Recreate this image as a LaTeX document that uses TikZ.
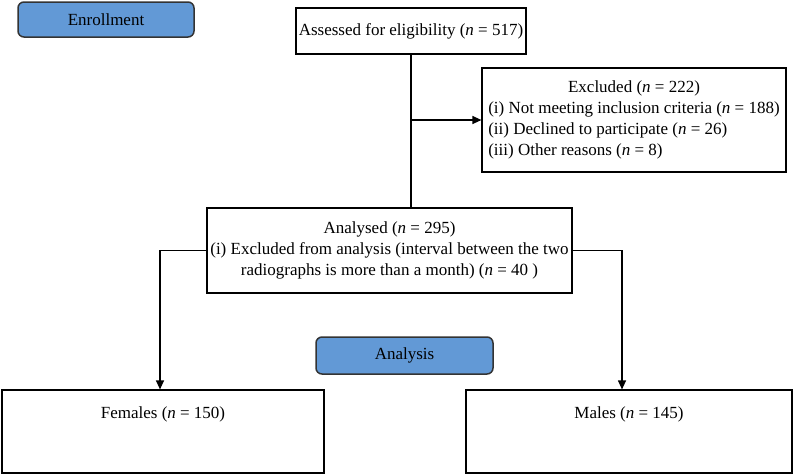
\documentclass[tikz,border=0pt]{standalone}
\usepackage{fontspec}
\setmainfont{Liberation Serif}
\usetikzlibrary{arrows.meta}
\definecolor{hdrblue}{HTML}{6299D6}
\definecolor{edgegray}{HTML}{333333}
\begin{document}
\begin{tikzpicture}[x=1pt,y=-1pt,
  box/.style={draw=black, line width=1.2pt, fill=white, inner sep=0pt, font=\fontsize{17}{21}\selectfont},
  hdr/.style={draw=edgegray, line width=1.5pt, fill=hdrblue, rounded corners=6pt, inner sep=0pt, font=\fontsize{17}{20}\selectfont},
  conn/.style={line width=1.2pt},
  arr/.style={conn, -{Triangle[length=9pt,width=8pt]}}]
\useasboundingbox (0,0) rectangle (794,475);
\node[hdr, minimum width=176pt, minimum height=35pt] (enr) at (106,19.5) {Enrollment};
\node[box, minimum width=230pt, minimum height=46pt] (ass) at (411,31) {Assessed for eligibility (\textit{n} = 517)};
\node[box, minimum width=304pt, minimum height=104pt] (exc) at (634,120) {\begin{tabular}{@{}l@{}}\multicolumn{1}{c}{Excluded (\textit{n} = 222)}\\ (i) Not meeting inclusion criteria (\textit{n} = 188)\\ (ii) Declined to participate (\textit{n} = 26)\\ (iii) Other reasons (\textit{n} = 8)\end{tabular}};
\node[box, minimum width=365pt, minimum height=85pt, align=center] (ana) at (389.5,250.5) {Analysed (\textit{n} = 295)\\ (i) Excluded from analysis (interval between the two\\ radiographs is more than a month) (\textit{n} = 40 )};
\node[hdr, minimum width=177pt, minimum height=37pt] (anl) at (404.5,355.5) {Analysis};
\node[box, minimum width=322pt, text height=28pt, text depth=55pt] (fem) at (163,431.5) {Females (\textit{n} = 150)};
\node[box, minimum width=326pt, text height=28pt, text depth=55pt] (mal) at (629,431.5) {Males (\textit{n} = 145)};
\draw[conn] (ass.south) -- (ass.south |- ana.north);
\coordinate (j1) at (ass.south |- exc.west);
\draw[arr] (j1) -- (exc.west);
\coordinate (fl) at (160,250.5);
\coordinate (ml) at (622,250.5);
\draw[arr] (ana.west) -| (fl |- fem.north);
\draw[arr] (ana.east) -| (ml |- mal.north);
\end{tikzpicture}
\end{document}
